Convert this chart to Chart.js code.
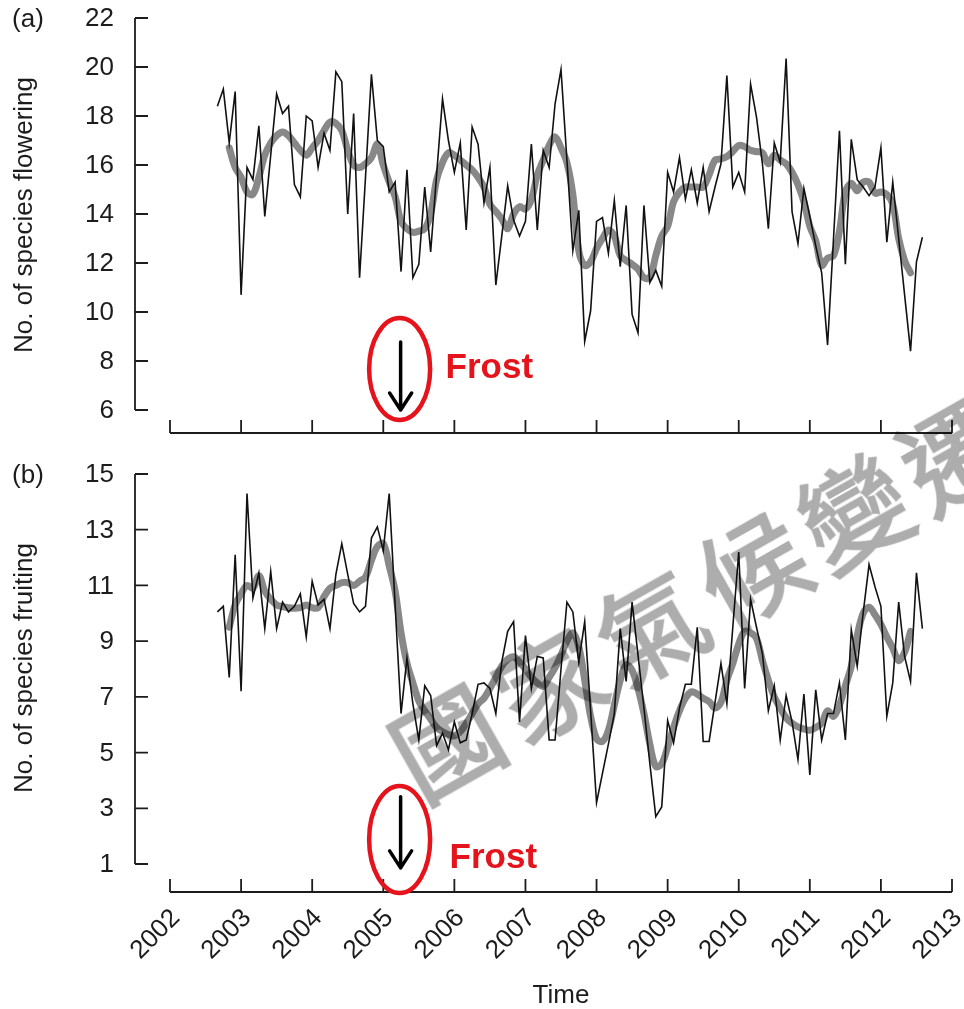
<!DOCTYPE html>
<html>
<head>
<meta charset="utf-8">
<script src="https://cdn.jsdelivr.net/npm/chart.js@4.4.0/dist/chart.umd.min.js"></script>
<style>
  html, body { margin: 0; padding: 0; background: #fff; overflow: hidden; }
  #page { position: relative; width: 964px; height: 1009px; overflow: hidden; }
  #page canvas { position: absolute; left: 0; }
  #flowerChart { top: 0; }
  #fruitChart { top: 460px; }
  #mark {
    position: absolute; left: 398px; top: 710px; height: 108px; line-height: 108px;
    font-family: "Noto Sans CJK TC", "Noto Sans CJK SC", sans-serif;
    font-size: 106px; font-weight: 400; letter-spacing: 11px; white-space: nowrap;
    color: #adadad; -webkit-text-stroke: 2.5px #adadad;
    mix-blend-mode: multiply; pointer-events: none;
    transform-origin: 0 50%; transform: rotate(-29.5deg);
  }
</style>
</head>
<body>
<div id="page">
  <canvas id="flowerChart" width="964" height="460"></canvas>
  <canvas id="fruitChart" width="964" height="549"></canvas>
  <div id="mark">國家氣候變遷</div>
</div>
<script>
// monthly series, first value is Sep 2002
const firstMonth = 2002 + 8 / 12;

const flowering = [
  18.4, 19.1, 16.9, 19.0, 10.7, 15.9, 15.4, 17.6, 13.9, 16.4,
  18.9, 18.1, 18.4, 15.2, 14.7, 18.0, 17.8, 15.9, 17.3, 16.6,
  19.8, 19.4, 14.0, 18.1, 11.4, 15.5, 19.7, 17.0, 16.75, 14.9,
  15.3, 11.65, 15.8, 11.4, 11.95, 15.1, 12.45, 15.6, 18.7, 17.0,
  15.7, 16.9, 13.35, 17.55, 16.85, 14.45, 15.9, 11.1, 13.1, 15.15,
  13.75, 13.1, 13.7, 16.85, 13.35, 16.6, 15.9, 18.5, 19.9, 16.2,
  12.5, 14.15, 8.8, 10.05, 13.7, 13.85, 12.4, 14.55, 11.85, 14.35,
  9.9, 9.15, 14.35, 11.2, 11.7, 11.05, 15.7, 14.9, 16.3, 14.6,
  15.8, 14.45, 15.9, 14.1, 15.1, 16.05, 19.65, 15.1, 15.7, 14.9,
  19.3, 17.95, 16.05, 13.4, 16.9, 16.1, 20.35, 14.1, 12.8, 15.05,
  13.9, 12.7, 11.6, 8.65, 13.0, 17.4, 11.95, 17.05, 15.4, 15.1,
  14.75, 15.1, 16.7, 12.85, 15.3, 13.0, 10.7, 8.4, 12.05, 13.05
];

const floweringSmooth = [
  null, null, 16.7, 15.9, 15.5, 14.9, 14.8, 15.5, 16.4, 16.9,
  17.2, 17.35, 17.2, 16.9, 16.6, 16.4, 16.7, 17.0, 17.4, 17.75,
  17.7, 17.4, 16.6, 16.0, 15.9, 16.05, 16.3, 16.85, 16.0, 15.3,
  14.7, 13.7, 13.4, 13.25, 13.3, 13.4, 14.0, 15.4, 16.1, 16.5,
  16.4, 16.2, 16.0, 15.8, 15.5, 15.1, 14.4, 14.1, 13.8, 13.4,
  14.0, 14.3, 14.2, 14.6, 15.6, 16.2, 16.8, 17.15, 16.7, 16.1,
  14.8, 12.5, 11.9, 12.05, 12.6, 13.0, 13.35, 13.1, 12.3, 12.1,
  11.95, 11.75, 11.4, 11.4, 12.3, 13.1, 13.5, 14.5, 14.9, 15.1,
  15.1, 15.1, 15.1, 15.6, 16.2, 16.25, 16.35, 16.55, 16.8, 16.75,
  16.6, 16.55, 16.5, 16.05, 16.4, 16.2, 16.05, 15.7, 15.2, 14.5,
  13.5, 12.9, 11.9, 12.2, 12.3, 13.3, 14.9, 15.25, 14.95, 15.3,
  15.3, 14.85, 14.9, 14.8, 14.4, 13.0, 12.1, 11.6, null, null
];

const fruiting = [
  10.05, 10.25, 7.7, 12.1, 7.2, 14.3, 10.55, 11.45, 9.45, 11.5,
  9.45, 10.4, 10.05, 10.25, 10.7, 9.15, 11.15, 10.3, 10.5, 9.45,
  11.4, 12.5, 11.4, 10.35, 10.05, 10.25, 12.7, 13.1, 12.25, 14.3,
  10.3, 6.4, 8.4, 6.75, 5.45, 7.4, 7.05, 5.25, 5.7, 5.1,
  6.1, 5.35, 5.45, 6.4, 7.45, 7.5, 7.3, 6.4, 8.25, 9.35,
  9.7, 6.1, 9.2, 7.3, 8.45, 8.4, 5.45, 5.45, 8.0, 10.4,
  10.05, 8.25, 9.7, 6.5, 3.2, 4.25, 5.3, 6.4, 9.45, 7.55,
  10.4, 8.5, 6.6, 4.6, 2.7, 3.05, 6.15, 5.35, 6.6, 7.45,
  7.45, 9.5, 5.4, 5.4, 6.8, 8.2, 6.75, 9.5, 12.2, 7.3,
  10.5, 9.5, 8.55, 6.5, 7.4, 5.45, 7.05, 6.1, 4.75, 7.1,
  4.2, 7.25, 5.45, 6.4, 6.4, 7.5, 5.45, 9.4, 8.1, 10.0,
  11.75, 10.95, 10.25, 6.3, 7.5, 10.4, 8.45, 7.55, 11.45, 9.45
];

const fruitingSmooth = [
  null, null, 9.5, 10.3, 10.7, 11.0, 10.9, 11.35, 10.8, 10.5,
  10.3, 10.24, 10.2, 10.18, 10.2, 10.3, 10.2, 10.2, 10.6, 10.9,
  11.0, 11.1, 11.1, 11.0, 11.15, 11.3, 11.9, 12.4, 12.5, 11.7,
  10.8, 9.3, 8.2, 7.5, 6.85, 6.5, 6.2, 5.9, 5.75, 5.65,
  5.6, 5.75, 6.05, 6.4, 6.75, 6.95, 7.3, 7.7, 8.1, 8.35,
  8.44, 8.25, 8.0, 7.7, 7.5, 7.37, 7.7, 8.05, 8.5, 9.0,
  9.3, 8.8, 7.6, 6.3, 5.5, 5.4, 5.8, 6.7, 7.6, 8.15,
  7.95, 7.3, 6.4, 5.3, 4.5, 4.6, 5.2, 5.9, 6.5, 6.95,
  7.18, 7.1, 6.95, 6.83, 6.6, 6.8, 7.6, 8.2, 8.9, 9.35,
  9.3, 9.1, 8.3, 7.6, 7.0, 6.6, 6.25, 6.05, 5.92, 5.85,
  5.8, 5.9, 6.05, 6.5, 6.3, 6.7, 7.4, 8.1, 9.2, 10.0,
  10.22, 9.95, 9.6, 9.15, 8.75, 8.3, 8.6, 9.35, null, null
];

const years = [2002, 2003, 2004, 2005, 2006, 2007, 2008, 2009, 2010, 2011, 2012, 2013];
const floweringTicks = [6, 8, 10, 12, 14, 16, 18, 20, 22];
const fruitingTicks = [1, 3, 5, 7, 9, 11, 13, 15];
const frostDate = 2005.23;

const FONT = '"Liberation Sans", Arial, sans-serif';
const INK = '#1c1c1c';
const RED = '#e5131b';

function toPoints(values) {
  return values.map((v, i) => ({ x: firstMonth + i / 12, y: v }));
}

// R-style detached axes with inward ticks, plus titles and the frost marker
const paperAxes = {
  id: 'paperAxes',
  afterDraw(chart, args, o) {
    const ctx = chart.ctx;
    const xs = chart.scales.x, ys = chart.scales.y;
    const area = chart.chartArea;
    const axX = area.left - 35;
    const axY = area.bottom + o.xGap;
    const tickLen = 13;

    ctx.save();
    ctx.strokeStyle = INK;
    ctx.fillStyle = INK;
    ctx.lineWidth = 1.8;
    ctx.font = '26px ' + FONT;

    // y axis
    const yTop = ys.getPixelForValue(o.yTicks[o.yTicks.length - 1]);
    const yBot = ys.getPixelForValue(o.yTicks[0]);
    ctx.beginPath();
    ctx.moveTo(axX, yTop); ctx.lineTo(axX, yBot);
    o.yTicks.forEach(v => {
      const p = ys.getPixelForValue(v);
      ctx.moveTo(axX, p); ctx.lineTo(axX + tickLen, p);
    });
    ctx.stroke();
    ctx.textAlign = 'right';
    ctx.textBaseline = 'middle';
    o.yTicks.forEach(v => ctx.fillText(String(v), axX - 21, ys.getPixelForValue(v) + 1));

    // x axis
    ctx.beginPath();
    ctx.moveTo(xs.getPixelForValue(years[0]), axY);
    ctx.lineTo(xs.getPixelForValue(years[years.length - 1]), axY);
    years.forEach(y => {
      const p = xs.getPixelForValue(y);
      ctx.moveTo(p, axY); ctx.lineTo(p, axY - tickLen);
    });
    ctx.stroke();
    if (o.xLabels) {
      years.forEach(y => {
        ctx.save();
        ctx.translate(xs.getPixelForValue(y) + 6, axY + 22);
        ctx.rotate(-Math.PI / 4);
        ctx.textAlign = 'right';
        ctx.textBaseline = 'middle';
        ctx.fillText(String(y), 0, 0);
        ctx.restore();
      });
      ctx.textAlign = 'center';
      ctx.fillText('Time', (xs.getPixelForValue(2002) + xs.getPixelForValue(2013)) / 2, axY + 104);
    }

    // panel letter and y title
    ctx.textAlign = 'center';
    ctx.fillText(o.letter, 28, yTop + 2);
    ctx.save();
    ctx.translate(25, o.titleY);
    ctx.rotate(-Math.PI / 2);
    ctx.fillText(o.title, 0, 0);
    ctx.restore();

    // frost marker
    const fx = xs.getPixelForValue(frostDate);
    const fy = ys.getPixelForValue(o.frost.center);
    ctx.strokeStyle = RED;
    ctx.lineWidth = 4.5;
    ctx.beginPath();
    ctx.ellipse(fx, fy, 30.5, o.frost.ry, 0, 0, Math.PI * 2);
    ctx.stroke();

    const a0 = ys.getPixelForValue(o.frost.from);
    const a1 = ys.getPixelForValue(o.frost.to);
    ctx.strokeStyle = '#000';
    ctx.lineWidth = 3.5;
    ctx.lineCap = 'round';
    ctx.lineJoin = 'round';
    ctx.beginPath();
    ctx.moveTo(fx + 1, a0); ctx.lineTo(fx + 1, a1);
    ctx.moveTo(fx - 10, a1 - 17); ctx.lineTo(fx + 1, a1); ctx.lineTo(fx + 12, a1 - 17);
    ctx.stroke();

    ctx.fillStyle = RED;
    ctx.font = 'bold 35px ' + FONT;
    ctx.textAlign = 'left';
    ctx.textBaseline = 'middle';
    ctx.fillText('Frost', fx + o.frost.textDx, ys.getPixelForValue(o.frost.textAt));
    ctx.restore();
  }
};

function makeChart(id, raw, smooth, yMin, yMax, padding, axes) {
  return new Chart(document.getElementById(id), {
    type: 'line',
    data: {
      datasets: [
        {
          data: toPoints(raw),
          borderColor: '#111',
          borderWidth: 1.6,
          pointRadius: 0,
          tension: 0,
          order: 0
        },
        {
          data: toPoints(smooth),
          borderColor: '#888888',
          borderWidth: 7,
          pointRadius: 0,
          tension: 0.35,
          borderCapStyle: 'round',
          borderJoinStyle: 'round',
          spanGaps: false,
          order: 1
        }
      ]
    },
    options: {
      responsive: false,
      devicePixelRatio: 1,
      animation: false,
      layout: { padding: padding },
      plugins: {
        legend: { display: false },
        tooltip: { enabled: false },
        paperAxes: axes
      },
      scales: {
        x: { type: 'linear', min: 2002, max: 2013, display: false },
        y: { min: yMin, max: yMax, display: false }
      }
    },
    plugins: [paperAxes]
  });
}

makeChart('flowerChart', flowering, floweringSmooth, 6, 22,
  { left: 170, right: 12, top: 18, bottom: 50 },
  {
    yTicks: floweringTicks, xGap: 23, xLabels: false, letter: '(a)',
    title: 'No. of species flowering', titleY: 215,
    frost: { center: 7.67, ry: 51, from: 8.78, to: 6.0, textAt: 7.68, textDx: 46 }
  });

makeChart('fruitChart', fruiting, fruitingSmooth, 1, 15,
  { left: 170, right: 12, top: 14, bottom: 145 },
  {
    yTicks: fruitingTicks, xGap: 28, xLabels: true, letter: '(b)',
    title: 'No. of species fruiting', titleY: 208,
    frost: { center: 1.88, ry: 53.5, from: 3.41, to: 0.86, textAt: 1.22, textDx: 50 }
  });
</script>
</body>
</html>
